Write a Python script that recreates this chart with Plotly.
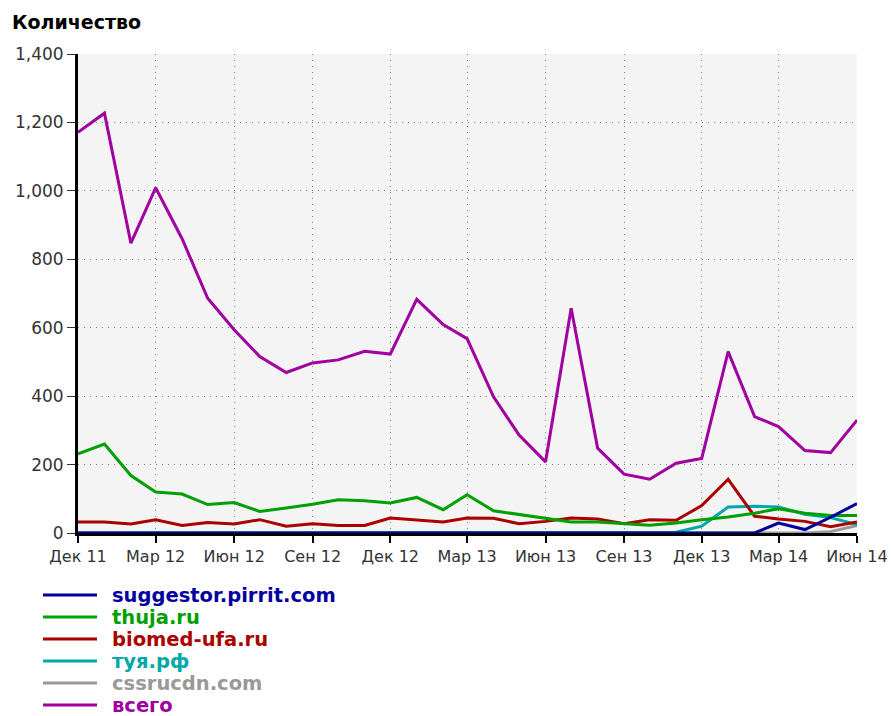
import plotly.graph_objects as go

# Monthly points, Dec 2011 .. Jun 2014
months = [
    "2011-12-01", "2012-01-01", "2012-02-01", "2012-03-01", "2012-04-01", "2012-05-01",
    "2012-06-01", "2012-07-01", "2012-08-01", "2012-09-01", "2012-10-01", "2012-11-01",
    "2012-12-01", "2013-01-01", "2013-02-01", "2013-03-01", "2013-04-01", "2013-05-01",
    "2013-06-01", "2013-07-01", "2013-08-01", "2013-09-01", "2013-10-01", "2013-11-01",
    "2013-12-01", "2014-01-01", "2014-02-01", "2014-03-01", "2014-04-01", "2014-05-01",
    "2014-06-01",
]

suggestor = [0, 0, 0, 0, 0, 0, 0, 0, 0, 0, 0, 0, 0, 0, 0, 0, 0, 0, 0, 0, 0, 0, 0, 0,
             0, 0, 0, 29, 10, 46, 86]
thuja = [231, 260, 168, 120, 114, 83, 89, 63, 73, 84, 97, 94, 88, 104, 68, 112, 65, 54,
         41, 32, 32, 27, 23, 29, 39, 47, 58, 71, 58, 51, 51]
biomed = [32, 32, 26, 39, 22, 31, 26, 39, 20, 27, 22, 22, 44, 37, 32, 44, 43, 27,
          34, 44, 41, 27, 39, 37, 80, 157, 49, 41, 34, 18, 32]
tuya = [0, 0, 0, 0, 0, 0, 0, 0, 0, 0, 0, 0, 0, 0, 0, 0, 0, 0, 0, 0, 0, 0, 0, 2,
        20, 76, 78, 76, 55, 45, 25]
cssrucdn = [0, 0, 0, 0, 0, 0, 0, 0, 0, 0, 0, 0, 0, 0, 0, 0, 0, 0, 0, 0, 0, 0, 0, 0,
            0, 0, 0, 0, 0, 4, 22]
total = [1171, 1227, 847, 1009, 860, 686, 594, 516, 469, 497, 506, 531, 523, 683, 609,
         568, 398, 286, 208, 657, 248, 172, 157, 204, 218, 530, 340, 311, 241, 235, 330]

series_names = ["suggestor.pirrit.com", "thuja.ru", "biomed-ufa.ru", "туя.рф", "cssrucdn.com", "всего"]
series_values = [suggestor, thuja, biomed, tuya, cssrucdn, total]
series_colors = ["#0000a0", "#00a000", "#aa0000", "#00a8a8", "#999999", "#a000a0"]

tick_dates = ["2011-12-01", "2012-03-01", "2012-06-01", "2012-09-01", "2012-12-01",
              "2013-03-01", "2013-06-01", "2013-09-01", "2013-12-01", "2014-03-01",
              "2014-06-01"]
tick_text = ["Дек 11", "Мар 12", "Июн 12", "Сен 12", "Дек 12", "Мар 13", "Июн 13",
             "Сен 13", "Дек 13", "Мар 14", "Июн 14"]

W, H = 892, 716
L, R, T, B = 78, 35, 54, 183
plot_w = W - L - R
plot_h = H - T - B

fig = go.Figure()
# draw the total first so the small series sit above it; suggestor ends up on top
for name, vals, col in reversed(list(zip(series_names, series_values, series_colors))):
    fig.add_trace(go.Scatter(
        x=months, y=vals, name=name, mode="lines",
        line=dict(color=col, width=3), showlegend=False,
    ))

# legend block below the plot: line sample plus bold coloured label
shapes = []
annotations = []
for k, (name, col) in enumerate(zip(series_names, series_colors)):
    py = 595 + 22.0 * k
    yp = (H - B - py) / plot_h
    shapes.append(dict(
        type="line", xref="paper", yref="paper",
        x0=(43 - L) / plot_w, x1=(97 - L) / plot_w, y0=yp, y1=yp,
        line=dict(color=col, width=3),
    ))
    annotations.append(dict(
        xref="paper", yref="paper", x=(111 - L) / plot_w, y=yp,
        xanchor="left", yanchor="middle", showarrow=False, borderpad=0,
        text="<b>%s</b>" % name,
        font=dict(family="DejaVu Sans", size=19.5, color=col),
    ))

annotations.append(dict(
    xref="paper", yref="paper", x=(10 - L) / plot_w, y=(H - B - 22) / plot_h,
    xanchor="left", yanchor="middle", showarrow=False,
    text="<b>Количество</b>",
    font=dict(family="DejaVu Sans", size=19, color="#000000"),
))

fig.update_layout(
    width=W, height=H,
    margin=dict(l=L, r=R, t=T, b=B, autoexpand=False),
    paper_bgcolor="#ffffff",
    plot_bgcolor="#f4f4f4",
    font=dict(family="DejaVu Sans", size=16, color="#333333"),
    shapes=shapes,
    annotations=annotations,
    showlegend=False,
)

fig.update_xaxes(
    type="date", automargin=False,
    range=["2011-12-01", "2014-06-01"],
    tickmode="array", tickvals=tick_dates, ticktext=tick_text,
    showgrid=True, gridcolor="#808080", gridwidth=1, griddash="1px,5px",
    showline=True, linecolor="#000000", linewidth=3,
    ticks="outside", ticklen=7, tickwidth=2, tickcolor="#000000",
    tickfont=dict(family="DejaVu Sans", size=16, color="#333333"),
    zeroline=False,
)
fig.update_yaxes(
    automargin=False,
    range=[0, 1400], dtick=200, tickformat=",d",
    showgrid=True, gridcolor="#808080", gridwidth=1, griddash="1px,5px",
    showline=True, linecolor="#000000", linewidth=3,
    ticks="outside", ticklen=8, tickwidth=1, tickcolor="#333333",
    tickfont=dict(family="DejaVu Sans", size=17, color="#333333"),
    zeroline=False,
)

fig.write_html("out.html")
